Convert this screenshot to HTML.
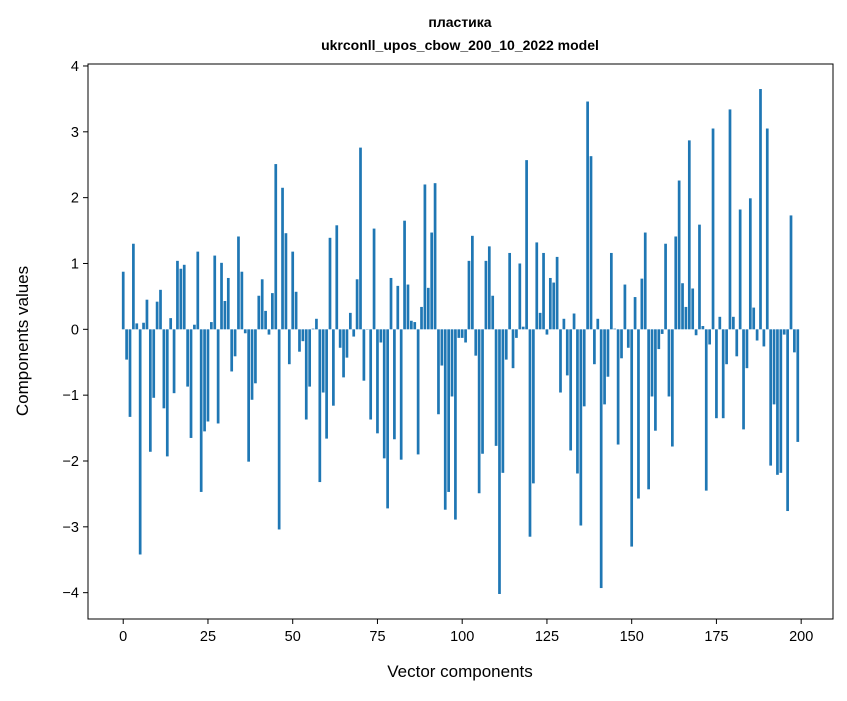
<!DOCTYPE html>
<html><head><meta charset="utf-8"><style>
body{margin:0;background:#fff;}
svg text{font-family:"Liberation Sans","DejaVu Sans",sans-serif;fill:#000;}
</style></head><body>
<svg id="chart" width="847" height="696" xmlns="http://www.w3.org/2000/svg">
<rect width="847" height="696" fill="#fff"/>
<text x="460" y="27" text-anchor="middle" font-size="14" font-weight="bold">пластика</text>
<text x="460" y="50" text-anchor="middle" font-size="14" font-weight="bold">ukrconll_upos_cbow_200_10_2022 model</text>
<g id="bars"></g>
<g id="xticks"></g>
<g id="yticks"></g>
<rect x="88" y="64" width="745" height="555" fill="none" stroke="#000" stroke-width="1"/>
<text x="460" y="677" text-anchor="middle" font-size="17">Vector components</text>
<text transform="translate(28,341) rotate(-90)" text-anchor="middle" font-size="17">Components values</text>
</svg>
<script>
const values = [0.875,-0.46,-1.33,1.30,0.09,-3.42,0.10,0.45,-1.86,-1.04,
0.42,0.60,-1.20,-1.93,0.17,-0.97,1.04,0.92,0.98,-0.87,
-1.65,0.07,1.18,-2.47,-1.55,-1.40,0.11,1.12,-1.43,1.01,
0.43,0.78,-0.64,-0.41,1.41,0.875,-0.06,-2.01,-1.07,-0.82,
0.51,0.76,0.28,-0.08,0.55,2.51,-3.04,2.15,1.46,-0.53,
1.18,0.57,-0.34,-0.18,-1.37,-0.87,0.01,0.16,-2.32,-0.96,
-1.66,1.39,-1.16,1.58,-0.28,-0.73,-0.43,0.25,-0.11,0.76,
2.76,-0.78,0.005,-1.37,1.53,-1.58,-0.20,-1.96,-2.72,0.78,
-1.67,0.66,-1.98,1.65,0.68,0.13,0.11,-1.90,0.34,2.20,
0.63,1.47,2.22,-1.29,-0.55,-2.74,-2.47,-1.02,-2.89,-0.13,
-0.13,-0.20,1.04,1.42,-0.40,-2.49,-1.89,1.04,1.26,0.51,
-1.77,-4.02,-2.18,-0.46,1.16,-0.59,-0.13,1.00,0.04,2.57,
-3.15,-2.34,1.32,0.25,1.16,-0.08,0.78,0.71,1.10,-0.96,
0.16,-0.70,-1.84,0.24,-2.19,-2.98,-1.17,3.46,2.63,-0.53,
0.16,-3.93,-1.14,-0.72,1.16,0.01,-1.75,-0.44,0.68,-0.28,
-3.30,0.49,-2.57,0.77,1.47,-2.43,-1.02,-1.54,-0.30,-0.07,
1.30,-1.02,-1.78,1.41,2.26,0.70,0.34,2.87,0.62,-0.09,
1.59,0.05,-2.45,-0.23,3.05,-1.35,0.19,-1.35,-0.53,3.34,
0.19,-0.41,1.82,-1.52,-0.59,1.99,0.33,-0.17,3.65,-0.26,
3.05,-2.07,-1.14,-2.21,-2.18,-0.08,-2.76,1.73,-0.35,-1.71];
const xTickLabels = [0,25,50,75,100,125,150,175,200];
const yTickLabels = [-4,-3,-2,-1,0,1,2,3,4];
const NS='http://www.w3.org/2000/svg';
const X0=88,X1=833,Y0=64,Y1=619;
const xmin=-10.39,xmax=209.39,ymin=-4.40,ymax=4.03;
function xs(v){return X0+(v-xmin)/(xmax-xmin)*(X1-X0);}
function ys(v){return Y1-(v-ymin)/(ymax-ymin)*(Y1-Y0);}
const bars=document.getElementById('bars');
values.forEach((v,i)=>{
  const r=document.createElementNS(NS,'rect');
  const xa=xs(i-0.4),xb=xs(i+0.4);
  const ya=ys(Math.max(v,0)),yb=ys(Math.min(v,0));
  r.setAttribute('x',xa);r.setAttribute('width',xb-xa);
  r.setAttribute('y',ya);r.setAttribute('height',Math.max(yb-ya,0.3));
  r.setAttribute('fill','#1f77b4');
  
  
  bars.appendChild(r);
});
const xt=document.getElementById('xticks');
xTickLabels.forEach(t=>{
  const x=xs(t);
  const l=document.createElementNS(NS,'line');
  l.setAttribute('x1',x);l.setAttribute('x2',x);l.setAttribute('y1',Y1);l.setAttribute('y2',Y1+5);
  l.setAttribute('stroke','#000');
  
  
  xt.appendChild(l);
  const s=document.createElementNS(NS,'text');
  s.setAttribute('x',x);s.setAttribute('y',Y1+22);s.setAttribute('text-anchor','middle');s.setAttribute('font-size','14.5');
  s.textContent=t;
  
  
  xt.appendChild(s);
});
const yt=document.getElementById('yticks');
yTickLabels.forEach(t=>{
  const y=ys(t);
  const l=document.createElementNS(NS,'line');
  l.setAttribute('x1',X0-5);l.setAttribute('x2',X0);l.setAttribute('y1',y);l.setAttribute('y2',y);
  l.setAttribute('stroke','#000');
  
  
  yt.appendChild(l);
  const s=document.createElementNS(NS,'text');
  s.setAttribute('x',X0-9);s.setAttribute('y',y+5);s.setAttribute('text-anchor','end');s.setAttribute('font-size','14.5');
  s.textContent=t<0?'\u2212'+Math.abs(t):String(t);
  
  
  yt.appendChild(s);
});
</script>
</body></html>
